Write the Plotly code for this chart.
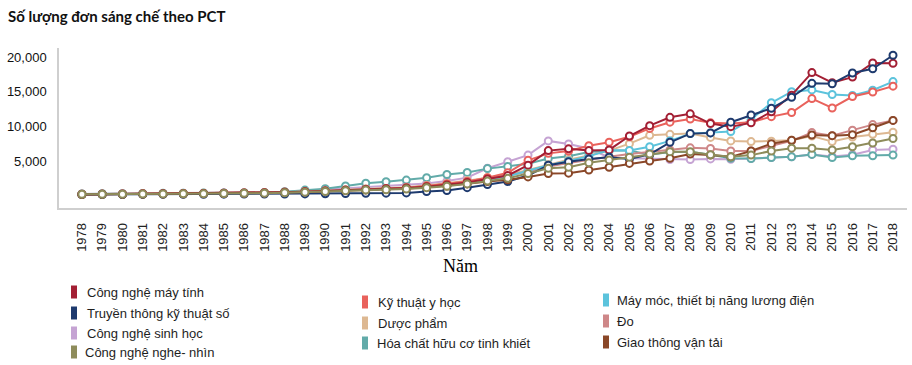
import plotly.graph_objects as go

years = list(range(1978, 2019))
year_labels = [str(y) for y in years]

may_tinh = [180,200,220,240,260,280,300,330,360,400,480,
            560,660,790,900,1000,1100,1300,1550,1900,2400,2900,
            4400,6500,6750,6500,6600,8600,10100,11300,11800,10400,
            9950,10500,12100,14500,17750,16300,17100,19150,19100]
truyen_thong = [150,160,170,180,190,200,210,220,230,240,245,
                250,270,300,330,360,400,600,750,1150,1600,2050,
                2900,4400,4900,5300,5550,5300,5950,7700,8950,9050,
                10600,11650,12600,14200,16200,16150,17700,18300,20250]
sinh_hoc = [240,260,280,300,320,340,360,380,410,450,540,
            700,880,1050,1200,1350,1500,1750,2100,2600,3950,4900,
            5850,7900,7450,6800,5500,5400,5300,5200,5200,5300,
            5250,5350,5500,5600,5950,5650,5900,6600,6700]
nghe_nhin = [200,210,220,230,250,270,290,310,330,360,420,
             500,600,720,800,850,950,1150,1350,1700,2100,2500,
             3200,3950,4100,4750,5150,5550,6000,6350,6350,5900,
             5600,5850,6450,6850,6850,6600,7050,7600,8250]
y_hoc = [200,220,240,260,280,300,320,340,370,410,480,
         580,680,800,920,1020,1150,1400,1700,2050,2600,3300,
         5100,6100,6450,7200,7700,8500,9700,10600,11050,10500,
         10400,10600,11400,12000,14000,12650,14300,14950,15800]
duoc_pham = [210,230,250,270,290,310,330,350,380,420,500,
             600,700,820,950,1050,1200,1450,1750,2150,2600,3000,
             3700,4500,5200,5800,6500,7500,8700,8850,8950,8400,
             7900,7800,7850,8000,8600,7800,8450,8850,9150]
hoa_chat = [250,270,290,310,330,350,370,390,420,460,560,
            800,1000,1400,1800,2000,2250,2600,3050,3350,3900,4200,
            4600,5350,5700,6300,6500,6500,5900,6300,6350,5900,
            5400,5350,5500,5600,5950,5500,5750,5750,5850]
may_moc = [190,210,230,250,270,290,310,330,360,400,470,
           560,660,780,900,1000,1100,1300,1550,1900,2300,2800,
           3600,4400,5000,5700,6550,6500,7050,7900,8950,9050,
           9250,11000,13400,15000,15250,14600,14450,15200,16450]
do_luong = [200,220,240,260,280,300,320,340,370,410,490,
            580,690,810,930,1030,1150,1350,1650,2000,2450,2900,
            3500,4200,4700,5200,5600,6000,6300,6600,6900,6800,
            6450,6450,7200,7900,9100,8650,9450,10250,10850]
giao_thong = [170,190,210,230,250,270,290,310,340,380,450,
              530,620,740,830,920,1020,1200,1400,1700,2050,2300,
              2700,3200,3250,3700,4100,4650,5000,5400,6000,5850,
              5600,6450,7500,8000,8750,8650,8800,9800,10850]

names = ["Công nghệ máy tính", "Truyền thông kỹ thuật số", "Công nghệ sinh học",
         "Công nghệ nghe- nhìn", "Kỹ thuật y học", "Dược phẩm",
         "Hóa chất hữu cơ tinh khiết", "Máy móc, thiết bị năng lương điện", "Đo",
         "Giao thông vận tải"]
series = [may_tinh, truyen_thong, sinh_hoc, nghe_nhin, y_hoc, duoc_pham,
          hoa_chat, may_moc, do_luong, giao_thong]
colors = ["#A31F34", "#1E3A6E", "#C5A3D3", "#8E8C5B", "#E9625C", "#DDB892",
          "#62ABA9", "#5CC3DC", "#CE8788", "#8A4728"]

# drawing order (olive on top in early years)
draw_order = [2, 6, 5, 8, 7, 4, 0, 1, 9, 3]

fig = go.Figure()
for i in draw_order:
    fig.add_trace(go.Scatter(
        x=years, y=series[i], name=names[i], mode="lines+markers",
        line=dict(color=colors[i], width=2),
        marker=dict(symbol="circle", size=7, color="white",
                    line=dict(color=colors[i], width=2)),
        showlegend=False))

# plot area in pixels
L, R, T, B = 59, 907, 48, 208
W, H = 912, 365

def px(x):
    return (x - L) / (R - L)

def py(y):
    return (B - y) / (B - T)

# custom legend layout: (swatch x, text x, row y)
legend_pos = [
    (71, 85, 292), (71, 85, 313), (71, 85, 333), (71, 83, 352),
    (362, 376, 302), (362, 376, 323), (362, 375, 343),
    (603, 615, 300), (603, 615, 321), (603, 615, 342),
]
shapes = []
annotations = []
for i, (sx, tx, ry) in enumerate(legend_pos):
    shapes.append(dict(type="rect", xref="paper", yref="paper",
                       x0=px(sx), x1=px(sx + 6), y0=py(ry + 6.5), y1=py(ry - 6.5),
                       fillcolor=colors[i], line=dict(width=0)))
    annotations.append(dict(text=names[i], xref="paper", yref="paper",
                            x=px(tx), y=py(ry), xanchor="left", yanchor="middle",
                            showarrow=False,
                            font=dict(family="Liberation Sans, Arial", size=13, color="#1e1e1e")))

annotations.append(dict(text="Năm", xref="paper", yref="paper", x=px(460), y=py(266),
                        xanchor="center", yanchor="middle", showarrow=False,
                        font=dict(family="Liberation Serif, Times New Roman", size=18, color="#000")))

fig.update_layout(
    width=W, height=H,
    margin=dict(l=L, r=W - R, t=T, b=H - B, pad=0),
    paper_bgcolor="white", plot_bgcolor="white",
    title=dict(text="<b>Số lượng đơn sáng chế theo PCT</b>", x=8 / W, xref="container",
               xanchor="left", y=1 - 17 / H, yref="container", yanchor="middle",
               font=dict(family="Lato, Open Sans, Arial", size=15, color="#111")),
    shapes=shapes, annotations=annotations,
    showlegend=False,
)
fig.update_xaxes(
    range=[1976.87, 2018.69], tickmode="array", tickvals=years, ticktext=year_labels,
    tickangle=-90, ticks="", showgrid=False, zeroline=False,
    showline=True, linecolor="#CFCFCF", linewidth=1.5,
    tickfont=dict(family="Liberation Sans, Arial", size=13, color="#222"),
    ticklabelstandoff=8,
)
fig.update_yaxes(
    range=[-1780, 21300], tickmode="array", tickvals=[5000, 10000, 15000, 20000],
    tickformat=",", ticks="", showgrid=False, zeroline=False,
    showline=True, linecolor="#CFCFCF", linewidth=1.5,
    tickfont=dict(family="Liberation Sans, Arial", size=13, color="#111"),
    ticklabelstandoff=8,
)

fig.write_html("out.html", config={"displayModeBar": False},
               post_script="document.body.style.margin='0';document.body.style.overflow='hidden';")
